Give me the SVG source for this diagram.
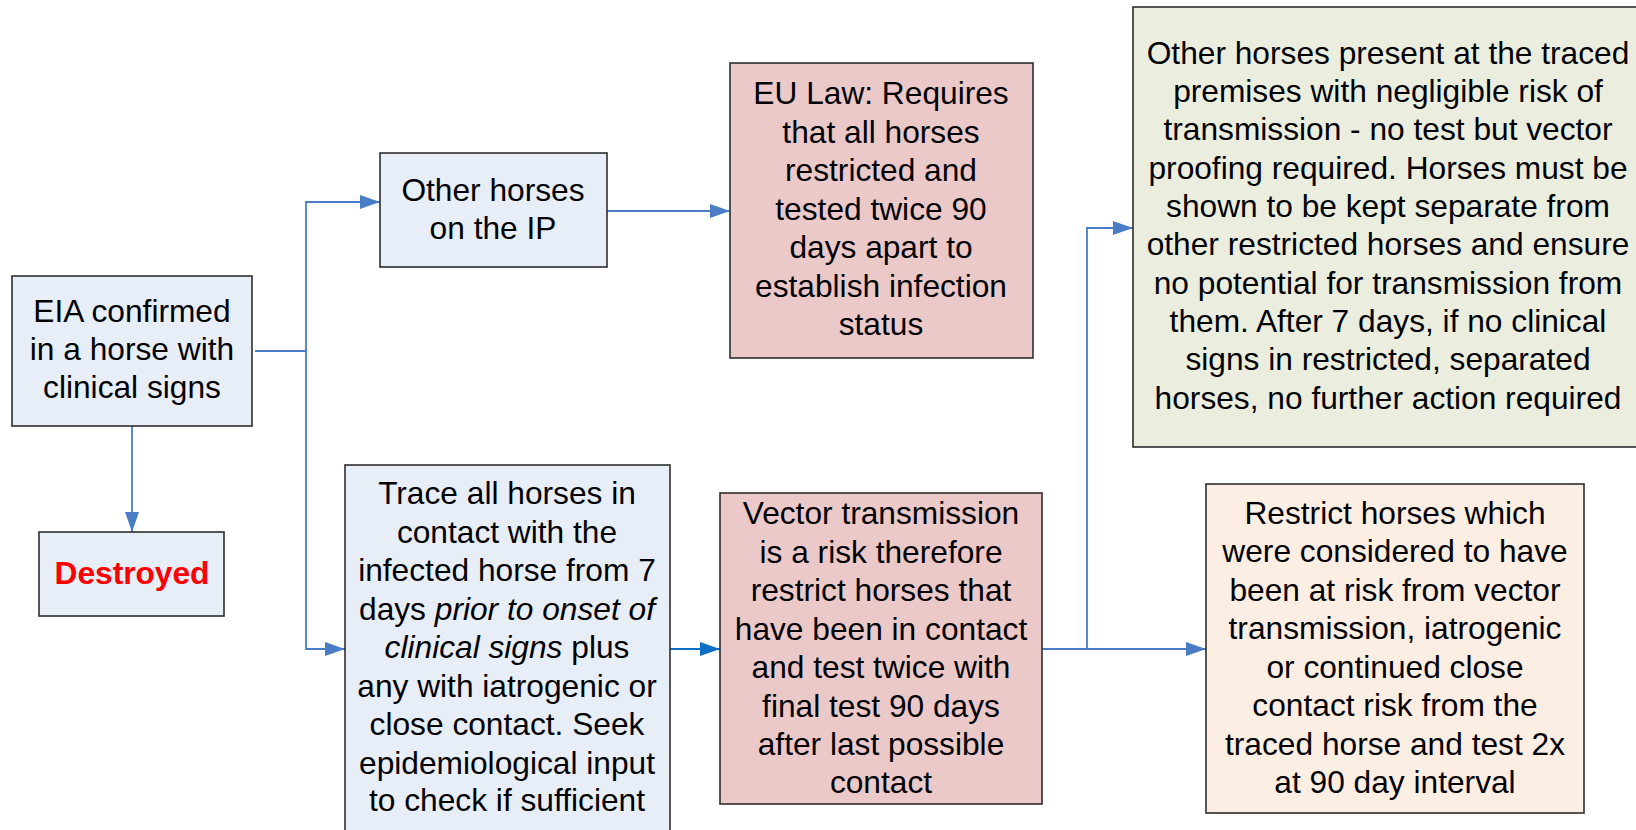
<svg xmlns="http://www.w3.org/2000/svg" width="1636" height="830" viewBox="0 0 1636 830">
<defs>
<style>
.box{stroke:#2e2e2e;stroke-width:1.6}
.blue{fill:#e8eef8}
.pink{fill:#ecc9c9}
.green{fill:#ebeedf}
.peach{fill:#fdeee4}
text{font-family:"Liberation Sans",Arial,sans-serif;font-size:31.7px;fill:#000;text-anchor:middle}
.red{fill:#ff0000;font-weight:bold}
.conn{fill:none;stroke:#4a7dc5;stroke-width:1.8}
.conn2{fill:none;stroke:#0b6fc6;stroke-width:1.8}
</style>
<marker id="ah" viewBox="0 0 20 14" refX="20" refY="7" markerWidth="20" markerHeight="14" markerUnits="userSpaceOnUse" orient="auto">
<path d="M0,0 L20,7 L0,14 Z" fill="#4a7dc5"/>
</marker>
<marker id="ah2" viewBox="0 0 20 14" refX="20" refY="7" markerWidth="20" markerHeight="14" markerUnits="userSpaceOnUse" orient="auto">
<path d="M0,0 L20,7 L0,14 Z" fill="#0b6fc6"/>
</marker>
</defs>
<rect width="1636" height="830" fill="#ffffff"/>
<g id="connectors">
<path class="conn" d="M255,351 H306 V202 H380" marker-end="url(#ah)"/>
<path class="conn" d="M306,351 V649 H345" marker-end="url(#ah)"/>
<path class="conn" d="M132,426 V532" marker-end="url(#ah)"/>
<path class="conn" d="M607,211 H730" marker-end="url(#ah)"/>
<path class="conn2" d="M670,649 H720" marker-end="url(#ah2)"/>
<path class="conn" d="M1042,649 H1206" marker-end="url(#ah)"/>
<path class="conn" d="M1087,649 V228 H1133" marker-end="url(#ah)"/>
</g>
<g id="eia">
<rect class="box blue" x="12" y="276" width="240" height="150"/>
<text x="132" y="322">EIA confirmed</text>
<text x="132" y="360">in a horse with</text>
<text x="132" y="398">clinical signs</text>
</g>
<g id="destroyed">
<rect class="box blue" x="39" y="532" width="185" height="84"/>
<text class="red" x="132" y="584">Destroyed</text>
</g>
<g id="other-ip">
<rect class="box blue" x="380" y="153" width="227" height="114"/>
<text x="493" y="201">Other horses</text>
<text x="493" y="239">on the IP</text>
</g>
<g id="eu-law">
<rect class="box pink" x="730" y="63" width="303" height="295"/>
<text x="881" y="104">EU Law: Requires</text>
<text x="881" y="142.5">that all horses</text>
<text x="881" y="181">restricted and</text>
<text x="881" y="219.5">tested twice 90</text>
<text x="881" y="258">days apart to</text>
<text x="881" y="296.5">establish infection</text>
<text x="881" y="335">status</text>
</g>
<g id="other-traced">
<rect class="box green" x="1133" y="7" width="515" height="440"/>
<text x="1388" y="64">Other horses present at the traced</text>
<text x="1388" y="102">premises with negligible risk of</text>
<text x="1388" y="140">transmission - no test but vector</text>
<text x="1388" y="178.5">proofing required. Horses must be</text>
<text x="1388" y="217">shown to be kept separate from</text>
<text x="1388" y="255">other restricted horses and ensure</text>
<text x="1388" y="293.5">no potential for transmission from</text>
<text x="1388" y="332">them. After 7 days, if no clinical</text>
<text x="1388" y="370">signs in restricted, separated</text>
<text x="1388" y="408.5">horses, no further action required</text>
</g>
<g id="trace">
<rect class="box blue" x="345" y="465" width="325" height="380"/>
<text x="507" y="504">Trace all horses in</text>
<text x="507" y="542.5">contact with the</text>
<text x="507" y="581">infected horse from 7</text>
<text x="507" y="619.5">days <tspan font-style="italic">prior to onset of</tspan></text>
<text x="507" y="658"><tspan font-style="italic">clinical signs</tspan> plus</text>
<text x="507" y="696.5">any with iatrogenic or</text>
<text x="507" y="735">close contact. Seek</text>
<text x="507" y="773.5">epidemiological input</text>
<text x="507" y="811">to check if sufficient</text>
</g>
<g id="vector">
<rect class="box pink" x="720" y="493" width="322" height="311"/>
<text x="881" y="524">Vector transmission</text>
<text x="881" y="562.5">is a risk therefore</text>
<text x="881" y="601">restrict horses that</text>
<text x="881" y="639.5">have been in contact</text>
<text x="881" y="678">and test twice with</text>
<text x="881" y="716.5">final test 90 days</text>
<text x="881" y="755">after last possible</text>
<text x="881" y="793">contact</text>
</g>
<g id="restrict">
<rect class="box peach" x="1206" y="484" width="378" height="329"/>
<text x="1395" y="524">Restrict horses which</text>
<text x="1395" y="562">were considered to have</text>
<text x="1395" y="600.5">been at risk from vector</text>
<text x="1395" y="639">transmission, iatrogenic</text>
<text x="1395" y="677.5">or continued close</text>
<text x="1395" y="716">contact risk from the</text>
<text x="1395" y="754.5">traced horse and test 2x</text>
<text x="1395" y="793">at 90 day interval</text>
</g>
</svg>
